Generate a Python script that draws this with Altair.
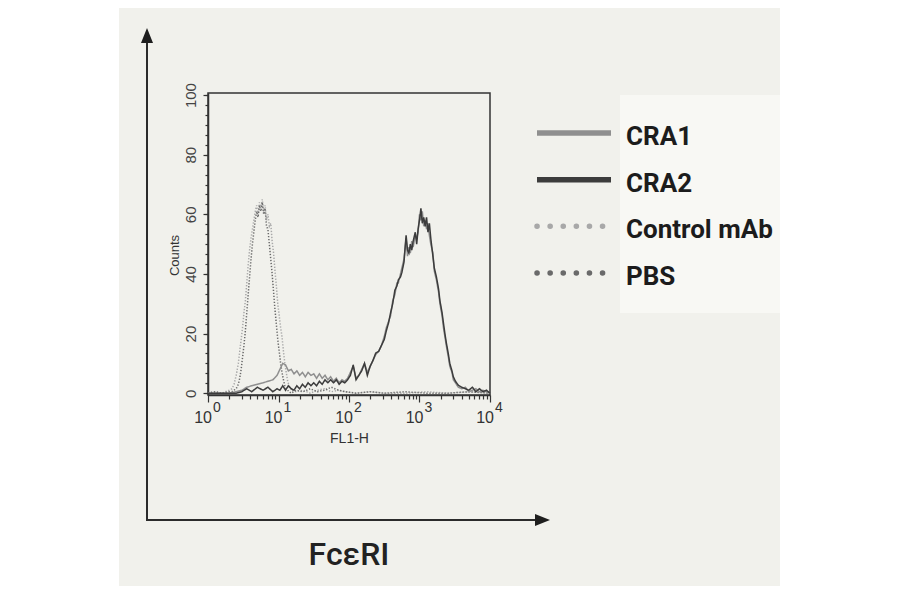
import altair as alt
import pandas as pd

# ---------------- data ----------------
series_names = ["CRA1", "CRA2", "Control mAb", "PBS"]
series_colors = ["#8f8f8f", "#3c3c3c", "#a8a8a8", "#6a6a6a"]

# log10(FL1-H) channel positions for the two solid histograms
solid_log_fl1 = [0.00, 0.10, 0.20, 0.30, 0.40, 0.48, 0.55, 0.62, 0.70, 0.78,
                 0.85, 0.92, 0.98, 1.02, 1.06, 1.10, 1.14, 1.18, 1.22, 1.26,
                 1.30, 1.34, 1.38, 1.42, 1.46, 1.50, 1.54, 1.58, 1.62, 1.66,
                 1.70, 1.74, 1.78, 1.82, 1.86, 1.90, 1.94, 1.98, 2.02, 2.06,
                 2.10, 2.14, 2.18, 2.22, 2.26, 2.30, 2.34, 2.38, 2.42, 2.46,
                 2.50, 2.53, 2.56, 2.59, 2.62, 2.65, 2.68, 2.70, 2.73, 2.75,
                 2.78, 2.81, 2.83, 2.85, 2.87, 2.89, 2.91, 2.94, 2.96, 2.98,
                 3.00, 3.02, 3.04, 3.06, 3.08, 3.10, 3.12, 3.14, 3.16, 3.19,
                 3.21, 3.24, 3.27, 3.29, 3.32, 3.34, 3.36, 3.38, 3.41, 3.43,
                 3.46, 3.48, 3.51, 3.55, 3.60, 3.65, 3.70, 3.75, 3.80, 3.85,
                 3.90, 3.95, 4.00]
cra1_counts = [0, 0, 0, 0, 0.5, 1, 2, 2.5, 3, 3.5,
               4, 4.5, 6, 8, 10, 9.5, 7.5, 8, 6.5, 7.5,
               6, 7, 5.5, 7, 6, 6.5, 5, 6.5, 5, 6,
               4.5, 5.5, 4, 5, 3.5, 4.5, 4, 5, 7, 9,
               5, 6, 8, 10, 7, 9, 11, 13, 14, 16,
               19, 22, 24, 26, 31, 33, 37, 37, 40, 42,
               45, 52, 46, 49, 47, 51, 49, 53, 52, 54,
               60, 58, 61, 56, 58, 55, 57, 53, 50, 47,
               41, 38, 34, 30, 26, 22, 19, 16, 12, 9,
               7, 4.5, 3.5, 2, 1.5, 2, 0.5, 1, 1.5, 0.5,
               1, 0.5, 0]
cra2_counts = [0, 0, 0, 0, 0, 0.5, 1.5, 0.5, 2, 1,
               2, 0.5, 1.5, 1, 2.5, 1, 2.5, 1.5, 1, 2.5,
               1.5, 3, 2, 3.5, 2.5, 3.5, 2.5, 4, 3, 4.5,
               3.5, 4.5, 3.5, 4.5, 3, 4, 3.5, 4.5, 6, 9.5,
               4.5, 6, 7.5, 10, 6, 9, 11, 13.5, 14, 16,
               18, 21, 23.5, 27, 30, 34.5, 36, 38, 39, 40.5,
               44, 53, 48, 47, 50, 48, 51, 54, 50, 55,
               58, 62, 57, 59, 56, 59, 54, 57, 52, 46,
               42, 39, 35, 31, 27, 23.5, 20, 17, 13, 10,
               7.5, 5.5, 4, 2.7, 2, 1.5, 1, 2, 0.5, 1.5,
               0.5, 1, 0]

# log10(FL1-H) channel positions for the two dotted histograms
dotted_log_fl1 = [0.00, 0.10, 0.20, 0.30, 0.34, 0.37, 0.40, 0.43, 0.45, 0.47,
                  0.49, 0.51, 0.53, 0.55, 0.57, 0.59, 0.61, 0.63, 0.65, 0.67,
                  0.69, 0.71, 0.73, 0.75, 0.77, 0.79, 0.81, 0.83, 0.85, 0.87,
                  0.89, 0.91, 0.93, 0.95, 0.97, 0.99, 1.01, 1.03, 1.05, 1.07,
                  1.09, 1.11, 1.13, 1.15, 1.18, 1.25, 1.35, 1.45, 1.55, 1.65,
                  1.75, 1.85, 1.95, 2.10, 2.30, 2.50, 2.80, 3.10, 3.40, 3.70,
                  4.00]
control_counts = [0, 0.5, 0, 1, 1.5, 3, 6, 10, 14, 18,
                  22, 27, 31, 37, 43, 48, 52, 55, 58, 61,
                  63, 60, 64, 62, 65, 61, 63, 58, 60, 56,
                  57, 51, 47, 41, 36, 30, 26, 22, 19, 14,
                  10, 7, 4, 2.5, 1, 0.5, 1, 0, 1, 1.5,
                  0.5, 1, 0.5, 0, 0.5, 0, 0, 0.5, 0, 0.5,
                  0]
pbs_counts = [0, 0.5, 0, 0.5, 0.5, 1, 1.5, 3, 5, 8,
              12, 16, 21, 27, 33, 39, 45, 50, 54, 58,
              61, 59, 63, 61, 64, 60, 62, 56, 55, 50,
              45, 40, 34, 28, 23, 18, 14, 10, 7, 4.5,
              2.5, 1.5, 1, 0.5, 0, 1, 0.5, 1.5, 0.5, 1,
              2, 1, 0.5, 0, 0.5, 0, 0.5, 0, 0, 0.5,
              0]

decade_values = [1, 10, 100, 1000, 10000]
decade_bases = ["10", "10", "10", "10", "10"]
decade_exponents = ["0", "1", "2", "3", "4"]
minor_x_ticks = [k * d for d in [1, 10, 100, 1000] for k in range(2, 10)]
major_y_ticks = [0, 20, 40, 60, 80, 100]
minor_y_ticks = [round(i * 20 / 6, 3) for i in range(31)]

rows = []
for name, logs, counts in [("Control mAb", dotted_log_fl1, control_counts),
                           ("PBS", dotted_log_fl1, pbs_counts),
                           ("CRA1", solid_log_fl1, cra1_counts),
                           ("CRA2", solid_log_fl1, cra2_counts)]:
    for lg, c in zip(logs, counts):
        rows.append({"series": name, "fl1": 10 ** lg, "count": c})
hist_df = pd.DataFrame(rows)
dec_df = pd.DataFrame({"fl1": decade_values, "base": decade_bases, "exp": decade_exponents})
leg_df = pd.DataFrame({"series": series_names})
one_row = pd.DataFrame({"k": [0]})

# ---------------- scales ----------------
x_scale = alt.Scale(type="log", domain=[1, 10000], nice=False)
y_scale = alt.Scale(domain=[-0.6, 100.7], nice=False, zero=False)
color_scale = alt.Scale(domain=series_names, range=series_colors)
dash_scale = alt.Scale(domain=series_names,
                       range=[[1, 0], [1, 0], [1.3, 1.7], [1.3, 1.7]])

# ---------------- histogram panel ----------------
minor_axes = alt.Chart(hist_df).mark_line(opacity=0).encode(
    x=alt.X("fl1:Q", scale=x_scale,
            axis=alt.Axis(orient="bottom", values=minor_x_ticks, tickSize=4,
                          labels=False, domain=False, title=None, grid=False)),
    y=alt.Y("count:Q", scale=y_scale,
            axis=alt.Axis(orient="left", values=minor_y_ticks, tickSize=3,
                          labels=False, domain=False, title=None, grid=False)),
)

lines = alt.Chart(hist_df).mark_line(strokeWidth=1.5).encode(
    x=alt.X("fl1:Q", scale=x_scale,
            axis=alt.Axis(orient="bottom", values=decade_values, tickSize=7,
                          labels=False, grid=False, title="FL1-H",
                          titleFontSize=14, titleFontWeight="normal",
                          titleY=47, titleBaseline="alphabetic")),
    y=alt.Y("count:Q", scale=y_scale,
            axis=alt.Axis(orient="left", values=major_y_ticks, tickSize=5,
                          grid=False, labelAngle=270, labelAlign="center",
                          labelBaseline="alphabetic", labelPadding=8,
                          labelFontSize=15, labelOverlap=False,
                          title="Counts", titleAngle=270, titleX=-34, titleY=162,
                          titleAlign="center", titleBaseline="middle",
                          titleFontSize=13, titleFontWeight="normal")),
    color=alt.Color("series:N", scale=color_scale, legend=None),
    strokeDash=alt.StrokeDash("series:N", scale=dash_scale, legend=None),
)

base_labels = alt.Chart(dec_df).mark_text(
    align="right", baseline="alphabetic", dx=4, fontSize=16,
    font="Liberation Sans", color="#333333"
).encode(x=alt.X("fl1:Q", scale=x_scale, axis=None), y=alt.value(330), text="base:N")

exp_labels = alt.Chart(dec_df).mark_text(
    align="left", baseline="alphabetic", dx=5, fontSize=14,
    font="Liberation Sans", color="#333333"
).encode(x=alt.X("fl1:Q", scale=x_scale, axis=None), y=alt.value(319), text="exp:N")

hist = alt.layer(minor_axes, lines, base_labels, exp_labels).resolve_axis(
    x="independent", y="independent")

# ---------------- decorations ----------------
white_left = alt.Chart(one_row).mark_rect(color="#ffffff").encode(
    x=alt.value(-210), x2=alt.value(-89), y=alt.value(-95), y2=alt.value(505))
white_right = alt.Chart(one_row).mark_rect(color="#ffffff").encode(
    x=alt.value(572), x2=alt.value(720), y=alt.value(-95), y2=alt.value(505))
legend_box = alt.Chart(one_row).mark_rect(color="#f8f8f4").encode(
    x=alt.value(412), x2=alt.value(572), y=alt.value(2), y2=alt.value(220))

axis_v = alt.Chart(one_row).mark_rule(color="#2b2b2b", strokeWidth=2).encode(
    x=alt.value(-61), y=alt.value(-52), y2=alt.value(427))
axis_h = alt.Chart(one_row).mark_rule(color="#2b2b2b", strokeWidth=2).encode(
    x=alt.value(-62), x2=alt.value(330), y=alt.value(427))
head_v = alt.Chart(one_row).mark_point(
    shape="M0,-1L0.8,1L-0.8,1Z", filled=True, size=225, color="#1e1e1e",
    opacity=1, strokeWidth=0).encode(x=alt.value(-61), y=alt.value(-57.5))
head_h = alt.Chart(one_row).mark_point(
    shape="M1,0L-1,-0.8L-1,0.8Z", filled=True, size=225, color="#1e1e1e",
    opacity=1, strokeWidth=0).encode(x=alt.value(334.5), y=alt.value(427))
fc_text = alt.Chart(one_row).mark_text(
    align="center", baseline="alphabetic", fontSize=32, fontWeight=500,
    font="Roboto", color="#222222"
).encode(x=alt.value(141), y=alt.value(472), text=alt.value("FcεRI"))

# ---------------- legend ----------------
leg_y = alt.Y("series:N", scale=alt.Scale(type="point", domain=series_names,
                                          range=[40, 180], padding=0), axis=None)
leg_color = alt.Color("series:N", scale=color_scale, legend=None)

leg_solid = alt.Chart(leg_df).transform_filter(
    alt.FieldOneOfPredicate(field="series", oneOf=series_names[:2])
).mark_rule(strokeWidth=5.5).encode(
    x=alt.value(329), x2=alt.value(403), y=leg_y, color=leg_color)
leg_dots = alt.Chart(leg_df).transform_filter(
    alt.FieldOneOfPredicate(field="series", oneOf=series_names[2:])
).mark_rule(strokeWidth=5.5, strokeDash=[0.1, 13], strokeCap="round").encode(
    x=alt.value(329), x2=alt.value(397), y=leg_y, color=leg_color)
leg_text = alt.Chart(leg_df).mark_text(
    align="left", baseline="alphabetic", dy=12, fontSize=26, fontWeight="bold",
    font="Roboto", color="#1c1c1c"
).encode(x=alt.value(418), y=leg_y, text="series:N")

chart = alt.layer(
    white_left, white_right, legend_box, axis_v, axis_h, head_v, head_h,
    fc_text, hist, leg_solid, leg_dots, leg_text
).resolve_scale(y="independent").properties(
    width=282, height=302,
    autosize=alt.AutoSizeParams(type="none"),
    padding={"left": 200, "top": 85, "right": 402, "bottom": 191},
    background="#f1f1ec",
).configure_axis(
    grid=False, domainColor="#333333", domainWidth=1.5, tickColor="#333333",
    tickWidth=1.2, labelColor="#444444", labelFont="Liberation Sans",
    titleFont="Liberation Sans", titleColor="#333333", zindex=1,
).configure_view(stroke="#333333", strokeWidth=1.5)

chart.save("out.html", embed_options={"renderer": "svg", "actions": False})
